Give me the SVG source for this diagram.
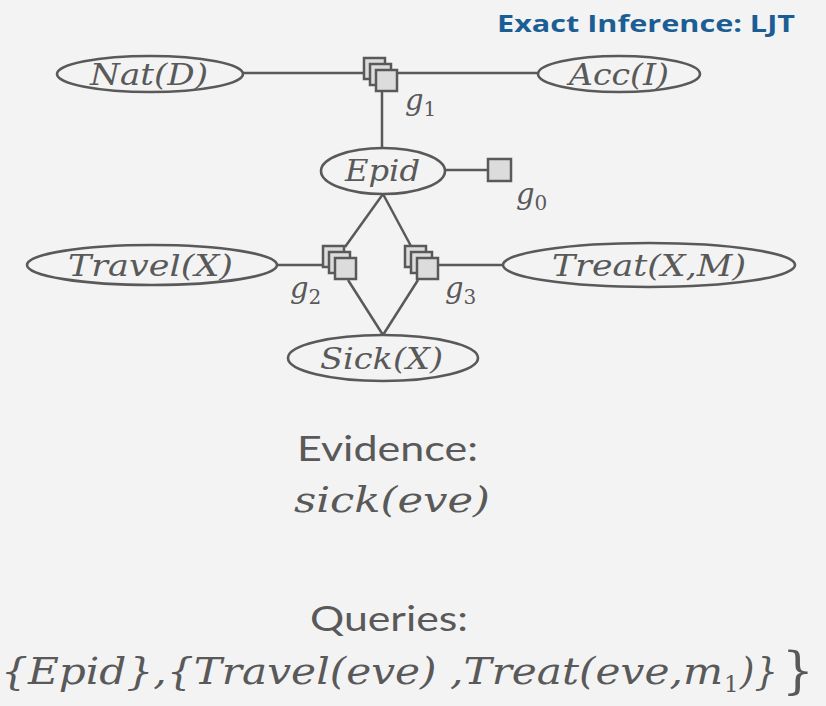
<svg xmlns="http://www.w3.org/2000/svg" width="826" height="706" viewBox="0 0 826 706">
  <style>
    .edge{stroke:#595959;stroke-width:2.5;fill:none}
    .var{fill:none;stroke:#595959;stroke-width:2.6}
    .fac{fill:#dcdcdc;stroke:#595959;stroke-width:2.5}
    .m{font-family:"DejaVu Serif","Liberation Serif",serif;font-style:italic;fill:#595959}
    .lbl{font-size:29px}
    .sub{font-style:normal}
    .txt{font-family:Lato,"Liberation Sans",sans-serif;fill:#595959;font-size:35px}
    .title{font-family:"Open Sans","Liberation Sans",sans-serif;font-weight:bold;fill:#1b5e95;font-size:24px}
  </style>
  <defs>
    <g id="stack">
      <rect class="fac" x="0" y="0" width="21" height="21"/>
      <rect class="fac" x="6" y="6" width="21" height="21"/>
      <rect class="fac" x="12" y="12" width="21" height="21"/>
    </g>
  </defs>
  <rect width="826" height="706" fill="#f3f3f3"/>

  <text class="title" x="497" y="32" textLength="298" lengthAdjust="spacingAndGlyphs">Exact Inference: LJT</text>

  <!-- connectors -->
  <g id="connectors">
    <line class="edge" x1="243" y1="73" x2="364" y2="73"/>
    <line class="edge" x1="397" y1="73" x2="539" y2="73"/>
    <line class="edge" x1="382" y1="91" x2="382" y2="148"/>
    <line class="edge" x1="445" y1="170" x2="488" y2="170"/>
    <line class="edge" x1="383" y1="194" x2="345" y2="247"/>
    <line class="edge" x1="383" y1="194" x2="412" y2="248"/>
    <line class="edge" x1="348" y1="280" x2="383" y2="335"/>
    <line class="edge" x1="418" y1="280" x2="383" y2="335"/>
    <line class="edge" x1="277" y1="265" x2="323" y2="265"/>
    <line class="edge" x1="438" y1="265" x2="503" y2="265"/>
  </g>

  <g id="nat">
    <ellipse class="var" cx="150" cy="74" rx="93" ry="18"/>
    <text class="m lbl" x="90" y="85" textLength="118" lengthAdjust="spacingAndGlyphs">Nat(D)</text>
  </g>
  <g id="acc">
    <ellipse class="var" cx="619" cy="74" rx="81" ry="18"/>
    <text class="m lbl" x="569" y="85" textLength="100" lengthAdjust="spacingAndGlyphs">Acc(I)</text>
  </g>
  <g id="g1">
    <use href="#stack" x="364" y="58"/>
    <text class="m" font-size="29" x="405" y="110">g<tspan class="sub" font-size="20" dy="6">1</tspan></text>
  </g>
  <g id="epid">
    <ellipse class="var" cx="383" cy="171" rx="62" ry="23"/>
    <text class="m lbl" x="345" y="181" textLength="75" lengthAdjust="spacingAndGlyphs">Epid</text>
  </g>
  <g id="g0">
    <rect class="fac" x="488" y="159" width="23" height="22"/>
    <text class="m" font-size="29" x="516" y="204">g<tspan class="sub" font-size="20" dy="6">0</tspan></text>
  </g>
  <g id="travel">
    <ellipse class="var" cx="152" cy="265" rx="125" ry="20"/>
    <text class="m lbl" x="68" y="276" textLength="165" lengthAdjust="spacingAndGlyphs">Travel(X)</text>
  </g>
  <g id="g2">
    <use href="#stack" x="323" y="246"/>
    <text class="m" font-size="29" x="290" y="298">g<tspan class="sub" font-size="20" dy="6">2</tspan></text>
  </g>
  <g id="g3">
    <use href="#stack" x="405" y="246"/>
    <text class="m" font-size="29" x="445" y="298">g<tspan class="sub" font-size="20" dy="6">3</tspan></text>
  </g>
  <g id="treat">
    <ellipse class="var" cx="649" cy="265" rx="146" ry="22"/>
    <text class="m lbl" x="552" y="276" textLength="194" lengthAdjust="spacingAndGlyphs">Treat(X,M)</text>
  </g>
  <g id="sick">
    <ellipse class="var" cx="383" cy="358" rx="95" ry="23"/>
    <text class="m lbl" x="320" y="369" textLength="123" lengthAdjust="spacingAndGlyphs">Sick(X)</text>
  </g>

  <!-- evidence and queries -->
  <text class="txt" x="297" y="461" textLength="181" lengthAdjust="spacingAndGlyphs">Evidence:</text>
  <text class="m" font-size="36" x="294" y="512" textLength="196" lengthAdjust="spacingAndGlyphs">sick(eve)</text>
  <text class="txt" x="310" y="631" textLength="158" lengthAdjust="spacingAndGlyphs">Queries:</text>
  <text class="m" font-size="37" x="1" y="684" textLength="722" lengthAdjust="spacingAndGlyphs">{Epid},{Travel(eve) ,Treat(eve,m</text>
  <text class="m sub" font-size="23" x="724" y="692">1</text>
  <text class="m" font-size="37" x="740" y="684" textLength="38" lengthAdjust="spacingAndGlyphs">)}</text>
  <text class="m sub" font-size="50" x="782" y="688">}</text>
</svg>
